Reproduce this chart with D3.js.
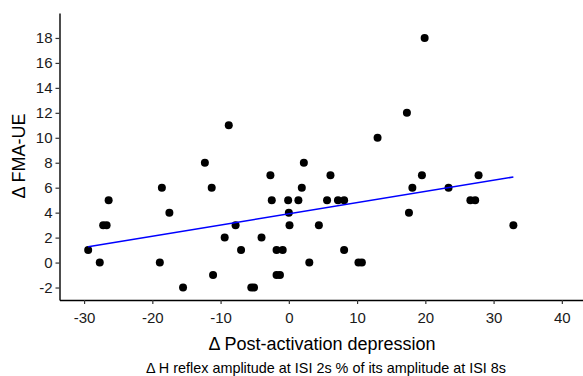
<!DOCTYPE html>
<html>
<head>
<meta charset="utf-8">
<script src="https://cdn.jsdelivr.net/npm/d3@7"></script>
<style>
  body { margin: 0; background: #fff; }
  svg text { font-family: 'Liberation Sans', Arial, sans-serif; }
</style>
</head>
<body>
<div id="chart"></div>
<script>
// change in post-activation depression (x) vs change in FMA-UE (y)
const padChange = [-29.4, -27.7, -27.2, -26.7, -26.4, -18.6, -17.5, -18.9, -15.5, -12.3,
  -11.3, -11.1, -8.8, -9.4, -7.8, -7.0, -5.5, -5.1, -4.0, -2.7,
  -2.5, -1.8, -0.9, -1.8, -1.3, -0.1, 0.0, 0.1, 1.4, 1.9,
  2.2, 3.0, 4.4, 5.6, 6.1, 7.2, 8.1, 8.1, 10.2, 10.7,
  13.0, 17.3, 17.6, 18.1, 19.5, 19.9, 23.4, 26.6, 27.3, 27.8, 32.9];
const fmaChange = [1, 0, 3, 3, 5, 6, 4, 0, -2, 8,
  6, -1, 11, 2, 3, 1, -2, -2, 2, 7,
  5, 1, 1, -1, -1, 5, 4, 3, 5, 6,
  8, 0, 3, 5, 7, 5, 5, 1, 0, 0,
  10, 12, 4, 6, 7, 18, 6, 5, 5, 7, 3];
const xTicks = [-30, -20, -10, 0, 10, 20, 30, 40];
const yTicks = [-2, 0, 2, 4, 6, 8, 10, 12, 14, 16, 18];
const xTitle = 'Δ Post-activation depression';
const xSubtitle = 'Δ H reflex amplitude at ISI 2s % of its amplitude at ISI 8s';
const yTitle = 'Δ FMA-UE';

const width = 583, height = 376;
const svg = d3.select('#chart').append('svg')
  .attr('width', width).attr('height', height);

const xScale = d3.scaleLinear().domain([-33.6, 43.1]).range([59.5, 583]);
const yScale = d3.scaleLinear().domain([-3, 20]).range([300, 13]);

const points = padChange.map((x, i) => ({ x, y: fmaChange[i] }));

// least squares fit, like geom_smooth(method = 'lm')
const mx = d3.mean(points, d => d.x), my = d3.mean(points, d => d.y);
const slope = d3.sum(points, d => (d.x - mx) * (d.y - my)) / d3.sum(points, d => (d.x - mx) ** 2);
const intercept = my - slope * mx;
const [xmin, xmax] = d3.extent(points, d => d.x);

// plain hyphen for negatives, not the unicode minus d3 uses
const plain = d => String(d);

// axes
const xAxis = svg.append('g')
  .attr('transform', `translate(0, ${yScale.range()[0]})`)
  .call(d3.axisBottom(xScale).tickValues(xTicks).tickFormat(plain)
    .tickSize(4).tickPadding(8).tickSizeOuter(0));
const yAxis = svg.append('g')
  .attr('transform', `translate(${xScale.range()[0]}, 0)`)
  .call(d3.axisLeft(yScale).tickValues(yTicks).tickFormat(plain)
    .tickSize(4).tickPadding(3).tickSizeOuter(0));

[xAxis, yAxis].forEach(g => {
  g.select('.domain').attr('stroke', '#000').attr('stroke-width', 1.4);
  g.selectAll('.tick line').attr('stroke', '#333').attr('stroke-width', 1.2);
  g.selectAll('.tick text').attr('fill', '#1a1a1a').style('font-size', '15px')
    .style('font-family', "'Liberation Sans', Arial, sans-serif");
});

// points
svg.append('g').selectAll('circle')
  .data(points)
  .enter()
  .append('circle')
  .attr('cx', d => xScale(d.x))
  .attr('cy', d => yScale(d.y))
  .attr('r', 4)
  .attr('fill', '#000');

// regression line
svg.append('line')
  .attr('x1', xScale(xmin)).attr('y1', yScale(intercept + slope * xmin))
  .attr('x2', xScale(xmax)).attr('y2', yScale(intercept + slope * xmax))
  .attr('stroke', '#0000ff')
  .attr('stroke-width', 1.5);

// labels
svg.append('text')
  .text(xTitle)
  .attr('x', 322).attr('y', 350)
  .attr('text-anchor', 'middle')
  .style('font-size', '18px')
  .attr('fill', '#000');

svg.append('text')
  .text(xSubtitle)
  .attr('x', 326).attr('y', 373)
  .attr('text-anchor', 'middle')
  .style('font-size', '14.4px')
  .attr('fill', '#000');

svg.append('text')
  .text(yTitle)
  .attr('transform', 'translate(25, 156) rotate(-90)')
  .attr('text-anchor', 'middle')
  .style('font-size', '18px')
  .attr('fill', '#000');
</script>
</body>
</html>
